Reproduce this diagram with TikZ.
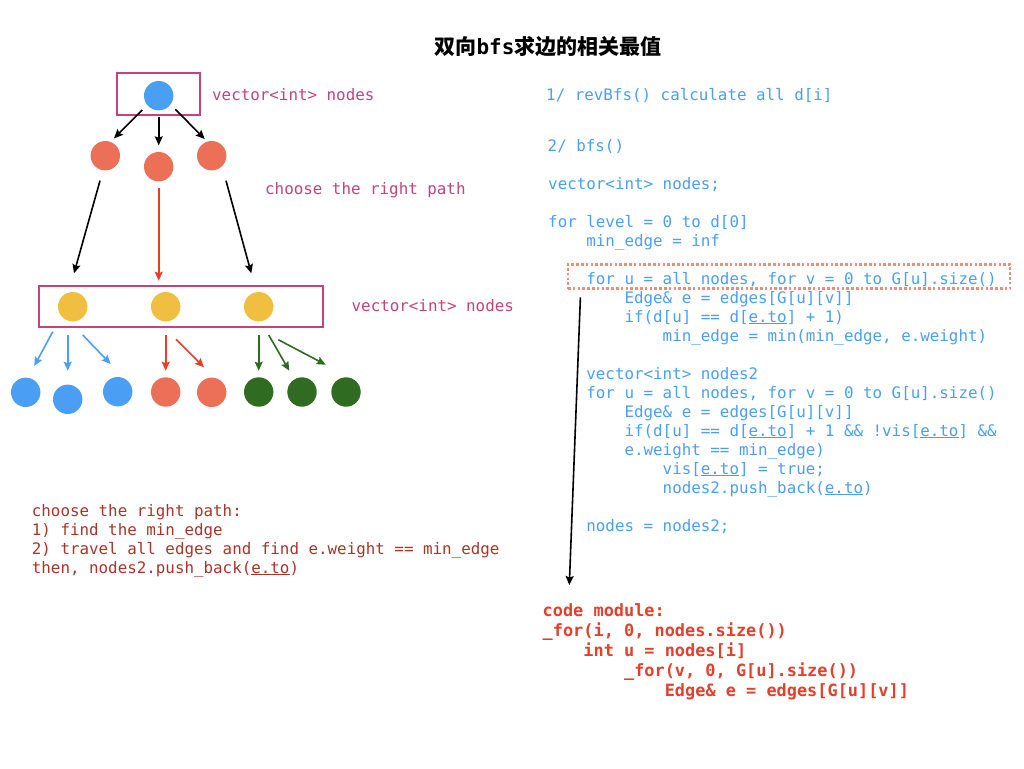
\documentclass[tikz,border=0pt]{standalone}
\usepackage{fontspec}
\setmonofont{DejaVu Sans Mono}
\newfontfamily\cjk{Noto Sans CJK SC}
\usetikzlibrary{arrows.meta}
\definecolor{pinkc}{HTML}{C4427E}
\definecolor{skyc}{HTML}{4A9FF5}
\definecolor{salmonc}{HTML}{EC6F58}
\definecolor{goldc}{HTML}{F0BE41}
\definecolor{leafc}{HTML}{2F6B20}
\definecolor{redc}{HTML}{E0402C}
\definecolor{brickc}{HTML}{A8352A}
\definecolor{dotc}{HTML}{F08A7A}
\newcommand\indt{\ \ \ \ }
\newcommand\eto{\underline{e.to}}
\tikzset{
  ball/.style={circle,fill=#1,minimum size=29.4pt,inner sep=0pt},
  pinkbox/.style={draw=pinkc,line width=1.8pt,inner sep=0pt},
  arr/.style={-{Stealth[length=9pt,width=8pt,inset=1.5pt]},line width=1.6pt},
  codetxt/.style={font=\ttfamily\fontsize{15.85pt}{19pt}\selectfont,align=left,inner sep=0pt,anchor=base west},
}

\begin{document}
\begin{tikzpicture}[x=1pt,y=-1pt]
  \fill[white] (0,0) rectangle (1024,768);
  \useasboundingbox (0,0) rectangle (1024,768);
  \node[font=\cjk\bfseries\fontsize{21pt}{25pt}\selectfont] (title) at (548,47) {双向{\ttfamily\bfseries bfs}求边的相关最值};

  \node[pinkbox,minimum width=82.7pt,minimum height=42pt] (top) at (158.7,94.3) {};
  \node[pinkbox,minimum width=284pt,minimum height=41.6pt] (lvl) at (180.7,306.5) {};
  \node[ball=skyc] (root) at (158.7,95.7) {};
  \node[ball=salmonc] (l1a) at (105.3,155.7) {};
  \node[ball=salmonc] (l1b) at (158.7,166.7) {};
  \node[ball=salmonc] (l1c) at (211.7,155.7) {};
  \foreach \n/\x in {y1/72.7,y2/165.7,y3/258.7}
    \node[ball=goldc] (\n) at (\x,306.7) {};
  \foreach \n/\x/\y/\col in {b1/25.7/392.3/skyc,b2/67.7/399.3/skyc,b3/117.7/391.7/skyc,
      r1/165.7/392/salmonc,r2/211.7/392.3/salmonc,g1/258.7/392/leafc,g2/302/392/leafc,g3/346/392/leafc}
    \node[ball=\col] (\n) at (\x,\y) {};

  \foreach \p/\ps/\q/\qs/\col in {
      root/{-16.4,14.3}/l1a/{8.7,-17.4}/black, root/{0,21.6}/l1b/{0,-21.4}/black,
      root/{16.6,13.6}/l1c/{-7,-16.7}/black, l1a/{-5.3,25}/y1/{1.3,-33.4}/black,
      l1b/{0,21}/y2/{-7,-26}/redc, l1c/{14.3,25}/y3/{-7.4,-33.4}/black,
      y1/{-20,25}/b1/{8.6,-26.3}/skyc, y1/{-5,28.3}/b2/{0,-28.6}/skyc,
      y1/{10,28.3}/b3/{-7,-27.7}/skyc, y2/{0,28.3}/r1/{0,-21.3}/redc,
      y2/{10.3,32.6}/r2/{-7.7,-25}/redc, y3/{0,28.3}/g1/{0,-21.3}/leafc,
      y3/{10,28.3}/g2/{-12.7,-21.3}/leafc, y3/{19.6,33}/g3/{-20.3,-27.3}/leafc}
    \draw[arr,\col] ([shift={(\ps)}]\p.center) -- ([shift={(\qs)}]\q.center);

  \node[codetxt,pinkc] (lab1) at (212,100) {vector<int> nodes};
  \node[codetxt,pinkc] (lab2) at (265,194) {choose the right path};
  \node[codetxt,pinkc] (lab3) at (351.5,311.7) {vector<int> nodes};

  \node[codetxt,skyc] (s1) at (546,100) {1/ revBfs() calculate all d[i]};
  \node[codetxt,skyc] (s2) at (547.5,151) {2/ bfs()};
  \node[codetxt,skyc] (steps) at (548,531) {vector<int> nodes;\\ \\
    for level = 0 to d[0]\\
    \indt min\_edge = inf\\ \\
    \indt for u = all nodes, for v = 0 to G[u].size()\\
    \indt\indt Edge\& e = edges[G[u][v]]\\
    \indt\indt if(d[u] == d[\eto] + 1)\\
    \indt\indt\indt min\_edge = min(min\_edge, e.weight)\\ \\
    \indt vector<int> nodes2\\
    \indt for u = all nodes, for v = 0 to G[u].size()\\
    \indt\indt Edge\& e = edges[G[u][v]]\\
    \indt\indt if(d[u] == d[\eto] + 1 \&\& !vis[\eto] \&\&\\
    \indt\indt e.weight == min\_edge)\\
    \indt\indt\indt vis[\eto] = true;\\
    \indt\indt\indt nodes2.push\_back(\eto)\\ \\
    \indt nodes = nodes2;};
  \node[draw=dotc,dash pattern=on 2.6pt off 2.2pt,line width=2.6pt,minimum width=442pt,minimum height=24.4pt,inner sep=0pt] (hot) at (789,276.5) {};
  \coordinate (modtop) at (569.3,585);
  \draw[arr] ([shift={(13.7,7.3)}]hot.south west) -- (modtop);

  \node[codetxt,brickc] (note) at (31.7,573) {choose the right path:\\
    1) find the min\_edge\\
    2) travel all edges and find e.weight == min\_edge\\
    then, nodes2.push\_back(\eto)};
  \node[codetxt,redc,font=\ttfamily\bfseries\fontsize{16.9pt}{20pt}\selectfont] (mod) at (542.5,696.7) {code module:\\
    \_for(i, 0, nodes.size())\\
    \indt int u = nodes[i]\\
    \indt\indt \_for(v, 0, G[u].size())\\
    \indt\indt\indt Edge\& e = edges[G[u][v]]};
\end{tikzpicture}
\end{document}
